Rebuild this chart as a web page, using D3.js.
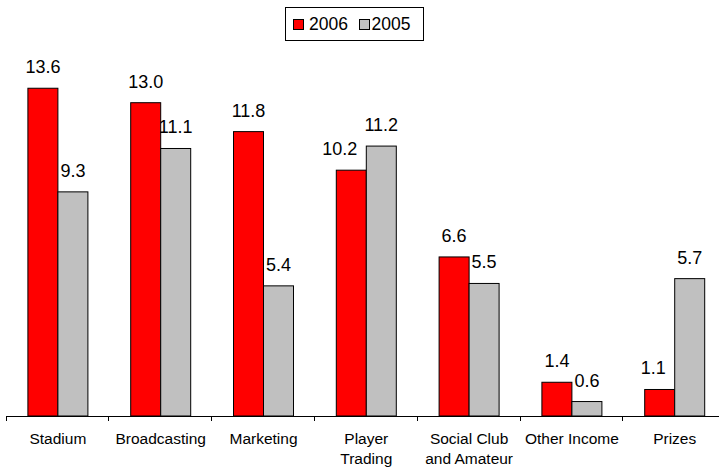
<!DOCTYPE html>
<html>
<head>
<meta charset="utf-8">
<script src="https://cdn.jsdelivr.net/npm/d3@7"></script>
<style>
  html, body { margin: 0; padding: 0; background: #fff; }
  svg { display: block; font-family: "Liberation Sans", Arial, sans-serif; }
</style>
</head>
<body>
<svg id="chart" width="719" height="468"></svg>
<script>
const categories = ["Stadium", "Broadcasting", "Marketing", "Player\nTrading", "Social Club\nand Amateur", "Other Income", "Prizes"];
const seriesNames = ["2006", "2005"];
const values2006 = [13.6, 13.0, 11.8, 10.2, 6.6, 1.4, 1.1];
const values2005 = [9.3, 11.1, 5.4, 11.2, 5.5, 0.6, 5.7];
const seriesColors = ["#FF0000", "#C0C0C0"];

const svg = d3.select("#chart");
const W = 719, H = 468;
const baseY = 416;

const x = d3.scaleBand().domain(categories).range([6.5, 6.5 + 7 * 102.8]).paddingInner(0).paddingOuter(0);
const xSub = d3.scaleBand().domain(seriesNames).range([0, 60]);
const y = d3.scaleLinear().domain([0, 16]).range([baseY, baseY - 16 * 24.1]);

const seriesVals = [values2006, values2005];
const data = [];
categories.forEach((c, i) => {
  seriesNames.forEach((s, j) => {
    data.push({ cat: c, series: s, value: seriesVals[j][i], color: seriesColors[j], idx: i, j: j });
  });
});

const groupX = c => x(c) + x.bandwidth() / 2 - 30;

// bars
svg.append("g").selectAll("rect").data(data).join("rect")
  .attr("x", d => groupX(d.cat) + xSub(d.series))
  .attr("y", d => y(d.value))
  .attr("width", xSub.bandwidth())
  .attr("height", d => baseY - y(d.value))
  .attr("fill", d => d.color)
  .attr("stroke", "#000")
  .attr("stroke-width", 1);

// value labels
const labels = svg.append("g").attr("font-size", "18px").attr("fill", "#000");
data.forEach(d => {
  const bx = groupX(d.cat) + xSub(d.series);
  let cx = bx + xSub.bandwidth() / 2;
  const t = labels.append("text")
    .attr("text-anchor", "middle")
    .attr("y", y(d.value) - 15)
    .text(d.value.toFixed(1));
  // avoid neighbouring taller bar (only for first series)
  if (d.j === 0) {
    const other = seriesVals[1][d.idx];
    if (other > d.value) {
      const w = t.node().getComputedTextLength();
      const limit = bx + xSub.bandwidth() - 9;
      if (cx + w / 2 > limit) cx = limit - w / 2;
    }
  }
  t.attr("x", cx);
});

// axis
const axis = svg.append("g").attr("transform", `translate(0,${baseY})`);
axis.append("line").attr("x1", 6).attr("x2", W).attr("y1", 0.5).attr("y2", 0.5)
  .attr("stroke", "#000").attr("stroke-width", 1);
const tickXs = categories.map(c => x(c)).concat([x(categories[categories.length - 1]) + x.bandwidth()]);
axis.selectAll("line.tick").data(tickXs).join("line").attr("class", "tick")
  .attr("x1", d => Math.round(d) - 0.5).attr("x2", d => Math.round(d) - 0.5)
  .attr("y1", 0).attr("y2", 5).attr("stroke", "#000");

const catText = svg.append("g").attr("font-size", "15.5px").attr("fill", "#000").attr("text-anchor", "middle");
categories.forEach(c => {
  const lines = c.split("\n");
  const t = catText.append("text").attr("x", x(c) + x.bandwidth() / 2).attr("y", 444);
  lines.forEach((ln, k) => {
    t.append("tspan").attr("x", x(c) + x.bandwidth() / 2).attr("dy", k === 0 ? 0 : 20).text(ln);
  });
});

// legend
const lg = svg.append("g");
lg.append("rect").attr("x", 285.5).attr("y", 7.5).attr("width", 138).attr("height", 33)
  .attr("fill", "#fff").attr("stroke", "#000");
const legendItems = [
  { name: seriesNames[0], color: seriesColors[0], sx: 293.5, tx: 309 },
  { name: seriesNames[1], color: seriesColors[1], sx: 359.5, tx: 371.5 }
];
legendItems.forEach(it => {
  lg.append("rect").attr("x", it.sx).attr("y", 19.5).attr("width", 10).attr("height", 10)
    .attr("fill", it.color).attr("stroke", "#000");
  lg.append("text").attr("x", it.tx).attr("y", 30).attr("font-size", "17.5px").text(it.name);
});
</script>
</body>
</html>
